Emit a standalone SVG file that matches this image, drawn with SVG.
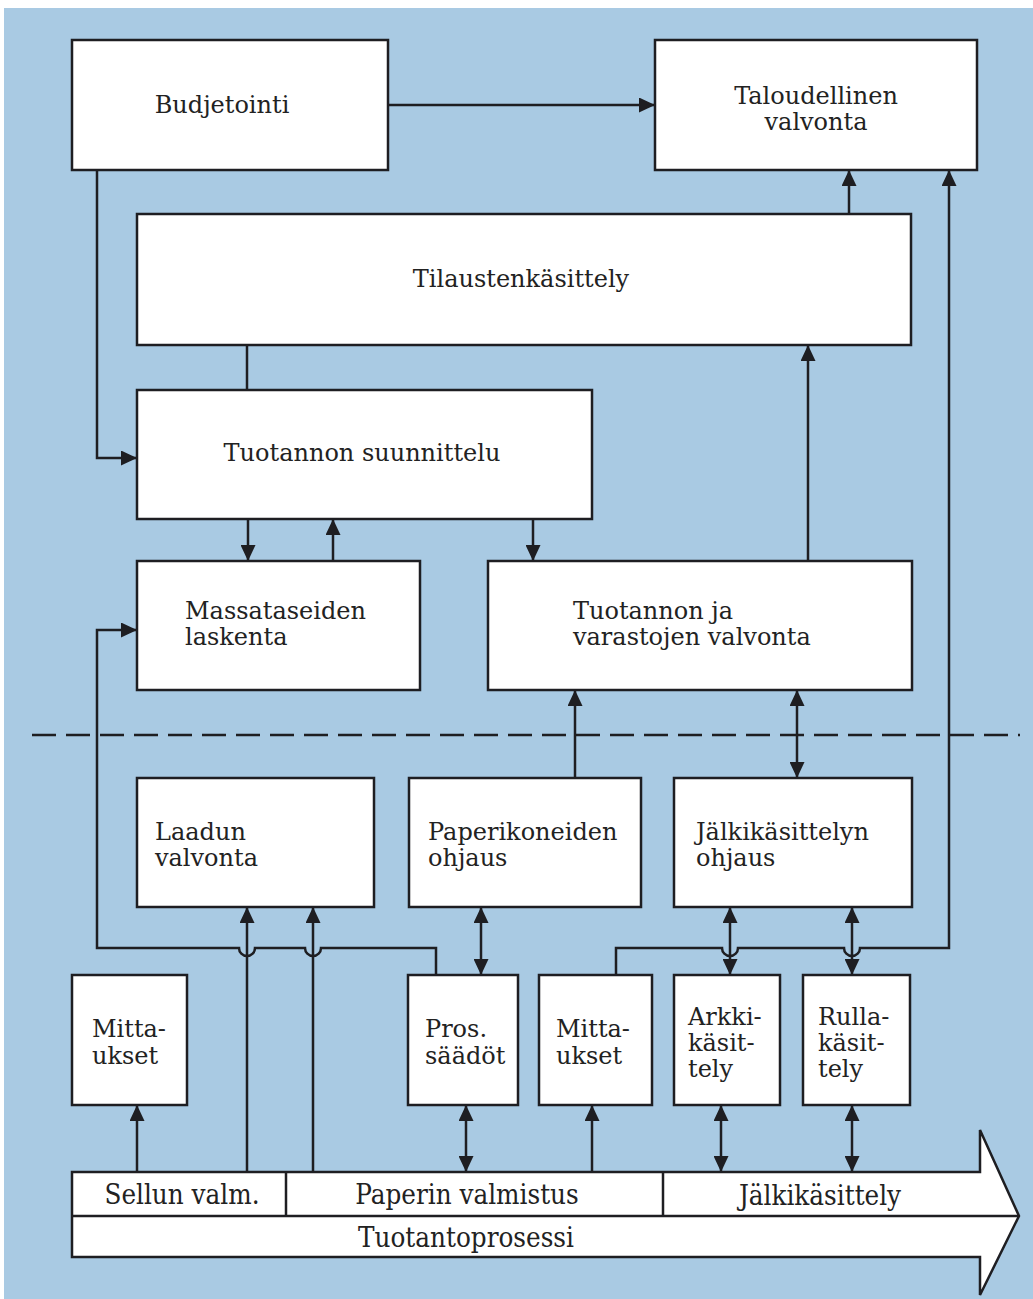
<svg xmlns="http://www.w3.org/2000/svg" width="1033" height="1299" viewBox="0 0 1033 1299">
<style>
.box{fill:#fff;stroke:#1e1e22;stroke-width:2.5}
.ln{fill:none;stroke:#1e1e22;stroke-width:2.5}
.t{font-family:"DejaVu Serif","Liberation Serif",serif;font-size:24px;fill:#222}
.c{text-anchor:middle}
.b{font-family:"DejaVu Serif","Liberation Serif",serif;font-stretch:condensed;font-size:27.5px;fill:#222;text-anchor:middle}
</style>
<defs>
<marker id="ah" viewBox="0 0 16 15" refX="16" refY="7.5" markerWidth="16" markerHeight="15" markerUnits="userSpaceOnUse" orient="auto-start-reverse">
<path d="M0,0 L16,7.5 L0,15 z" fill="#1e1e22"/>
</marker>
</defs>
<rect x="0" y="0" width="1033" height="1299" fill="#fff"/>
<rect x="4" y="8" width="1029" height="1291" fill="#a9cae3"/>

<g id="connectors">
<line class="ln" x1="388" y1="105" x2="655" y2="105" marker-end="url(#ah)"/>
<path class="ln" d="M97,170 V458 H137" marker-end="url(#ah)"/>
<line class="ln" x1="247" y1="345" x2="247" y2="390"/>
<line class="ln" x1="248" y1="519" x2="248" y2="561" marker-end="url(#ah)"/>
<line class="ln" x1="333" y1="561" x2="333" y2="519" marker-end="url(#ah)"/>
<line class="ln" x1="533" y1="519" x2="533" y2="561" marker-end="url(#ah)"/>
<line class="ln" x1="808" y1="561" x2="808" y2="345" marker-end="url(#ah)"/>
<line class="ln" x1="849" y1="214" x2="849" y2="170" marker-end="url(#ah)"/>
<path class="ln" d="M616,975 V948 H722 A8,8 0 0 0 738,948 H844 A8,8 0 0 0 860,948 H949 V170" marker-end="url(#ah)"/>
<path class="ln" d="M436,975 V948 H321 A8,8 0 0 1 305,948 H255 A8,8 0 0 1 239,948 H97 V630 H137" marker-end="url(#ah)"/>
<line class="ln" x1="247" y1="1172" x2="247" y2="907" marker-end="url(#ah)"/>
<line class="ln" x1="313" y1="1172" x2="313" y2="907" marker-end="url(#ah)"/>
<line class="ln" x1="481" y1="907" x2="481" y2="975" marker-start="url(#ah)" marker-end="url(#ah)"/>
<line class="ln" x1="575" y1="778" x2="575" y2="690" marker-end="url(#ah)"/>
<line class="ln" x1="797" y1="690" x2="797" y2="778" marker-start="url(#ah)" marker-end="url(#ah)"/>
<line class="ln" x1="730" y1="907" x2="730" y2="975" marker-start="url(#ah)" marker-end="url(#ah)"/>
<line class="ln" x1="852" y1="907" x2="852" y2="975" marker-start="url(#ah)" marker-end="url(#ah)"/>
<line class="ln" x1="137" y1="1172" x2="137" y2="1105" marker-end="url(#ah)"/>
<line class="ln" x1="466" y1="1105" x2="466" y2="1172" marker-start="url(#ah)" marker-end="url(#ah)"/>
<line class="ln" x1="592" y1="1172" x2="592" y2="1105" marker-end="url(#ah)"/>
<line class="ln" x1="721" y1="1105" x2="721" y2="1172" marker-start="url(#ah)" marker-end="url(#ah)"/>
<line class="ln" x1="852" y1="1105" x2="852" y2="1172" marker-start="url(#ah)" marker-end="url(#ah)"/>
<line x1="32" y1="735" x2="1020" y2="735" stroke="#1e1e22" stroke-width="2.5" stroke-dasharray="24,10"/>
</g>

<g id="budjetointi"><rect class="box" x="72" y="40" width="316" height="130"/><text class="t c" x="222" y="113">Budjetointi</text></g>
<g id="taloudellinen"><rect class="box" x="655" y="40" width="322" height="130"/><text class="t c" x="816" y="104">Taloudellinen</text><text class="t c" x="816" y="130">valvonta</text></g>
<g id="tilausten"><rect class="box" x="137" y="214" width="774" height="131"/><text class="t c" x="521" y="287">Tilaustenkäsittely</text></g>
<g id="suunnittelu"><rect class="box" x="137" y="390" width="455" height="129"/><text class="t c" x="362" y="461">Tuotannon suunnittelu</text></g>
<g id="massataseiden"><rect class="box" x="137" y="561" width="283" height="129"/><text class="t" x="185" y="619">Massataseiden</text><text class="t" x="185" y="645">laskenta</text></g>
<g id="varastojen"><rect class="box" x="488" y="561" width="424" height="129"/><text class="t" x="573" y="619">Tuotannon ja</text><text class="t" x="573" y="645">varastojen valvonta</text></g>
<g id="laadun"><rect class="box" x="137" y="778" width="237" height="129"/><text class="t" x="155" y="840">Laadun</text><text class="t" x="155" y="866">valvonta</text></g>
<g id="paperikoneiden"><rect class="box" x="409" y="778" width="232" height="129"/><text class="t" x="428" y="840">Paperikoneiden</text><text class="t" x="428" y="866">ohjaus</text></g>
<g id="jalkikasittelyn"><rect class="box" x="674" y="778" width="238" height="129"/><text class="t" x="696" y="840">Jälkikäsittelyn</text><text class="t" x="696" y="866">ohjaus</text></g>
<g id="mittaukset1"><rect class="box" x="72" y="975" width="115" height="130"/><text class="t" x="92" y="1037">Mitta-</text><text class="t" x="92" y="1064">ukset</text></g>
<g id="pros"><rect class="box" x="408" y="975" width="110" height="130"/><text class="t" x="425" y="1037">Pros.</text><text class="t" x="425" y="1064">säädöt</text></g>
<g id="mittaukset2"><rect class="box" x="539" y="975" width="113" height="130"/><text class="t" x="556" y="1037">Mitta-</text><text class="t" x="556" y="1064">ukset</text></g>
<g id="arkki"><rect class="box" x="674" y="975" width="106" height="130"/><text class="t" x="688" y="1025">Arkki-</text><text class="t" x="688" y="1051">käsit-</text><text class="t" x="688" y="1077">tely</text></g>
<g id="rulla"><rect class="box" x="803" y="975" width="107" height="130"/><text class="t" x="818" y="1025">Rulla-</text><text class="t" x="818" y="1051">käsit-</text><text class="t" x="818" y="1077">tely</text></g>

<g id="tuotantoprosessi">
<path class="box" d="M72,1172 H980 V1130 L1019,1216 L980,1295 V1257 H72 Z"/>
<line class="ln" x1="72" y1="1216" x2="1019" y2="1216"/>
<line class="ln" x1="286" y1="1172" x2="286" y2="1216"/>
<line class="ln" x1="663" y1="1172" x2="663" y2="1216"/>
<text class="b" x="182" y="1204">Sellun valm.</text>
<text class="b" x="467" y="1204">Paperin valmistus</text>
<text class="b" x="820" y="1205">Jälkikäsittely</text>
<text class="b" x="466" y="1247">Tuotantoprosessi</text>
</g>
</svg>
